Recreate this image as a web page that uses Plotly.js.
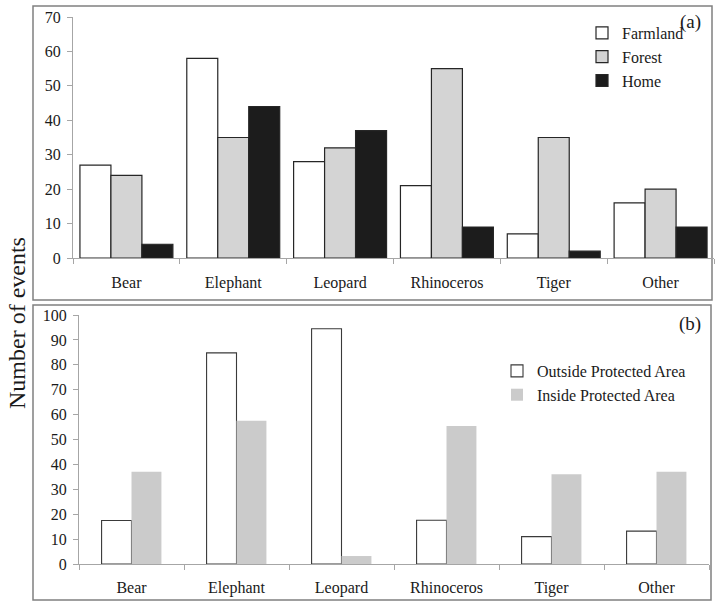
<!DOCTYPE html>
<html>
<head>
<meta charset="utf-8">
<script src="https://cdn.plot.ly/plotly-3.0.1.min.js"></script>
<style>html,body{margin:0;padding:0;background:#fff;}#chart{width:717px;height:604px;}</style>
</head>
<body>
<div id="chart"></div>
<script>
// ---- data ----
const categories = ["Bear", "Elephant", "Leopard", "Rhinoceros", "Tiger", "Other"];
// panel (a): events by location
const farmland = [27, 58, 28, 21, 7, 16];
const forest   = [24, 35, 32, 55, 35, 20];
const home     = [4, 44, 37, 9, 2, 9];
// panel (b): events by protected-area status
const outsidePA = [17.5, 84.8, 94.5, 17.6, 11, 13.2];
const insidePA  = [37, 57.5, 3.2, 55.4, 36, 37];
const seriesA = ["Farmland", "Forest", "Home"];
const seriesB = ["Outside Protected Area", "Inside Protected Area"];
const yTicksA = [0, 10, 20, 30, 40, 50, 60, 70];
const yTicksB = [0, 10, 20, 30, 40, 50, 60, 70, 80, 90, 100];

// ---- style ----
const W = 717, H = 604;
const FONT = "Liberation Serif";
const px = v => v / W;
const py = v => (H - v) / H;

const edge = "#262626";
const traces = [
  {type: "bar", name: seriesA[0], x: categories, y: farmland, xaxis: "x", yaxis: "y",
   width: 0.29, offset: -0.435, marker: {color: "#ffffff", line: {color: edge, width: 1.2}}, legend: "legend"},
  {type: "bar", name: seriesA[1], x: categories, y: forest, xaxis: "x", yaxis: "y",
   width: 0.29, offset: -0.145, marker: {color: "#d4d4d4", line: {color: edge, width: 1.2}}, legend: "legend"},
  {type: "bar", name: seriesA[2], x: categories, y: home, xaxis: "x", yaxis: "y",
   width: 0.29, offset: 0.145, marker: {color: "#1c1c1c", line: {color: edge, width: 1.2}}, legend: "legend"},
  {type: "bar", name: seriesB[0], x: categories, y: outsidePA, xaxis: "x2", yaxis: "y2",
   width: 0.285, offset: -0.285, marker: {color: "#ffffff", line: {color: "#3a3a3a", width: 1.1}}, legend: "legend2"},
  {type: "bar", name: seriesB[1], x: categories, y: insidePA, xaxis: "x2", yaxis: "y2",
   width: 0.285, offset: 0, marker: {color: "#cbcbcb", line: {width: 0}}, legend: "legend2"}
];

const axisCommon = {
  showline: true, linecolor: "#a6a6a6", linewidth: 1,
  ticks: "outside", ticklen: 5, tickcolor: "#a6a6a6", tickwidth: 1,
  showgrid: false, zeroline: false, fixedrange: true,
  tickfont: {family: FONT, size: 16, color: "#1a1a1a"}
};

const layout = {
  width: W, height: H,
  margin: {l: 0, r: 0, t: 0, b: 0, autoexpand: false},
  paper_bgcolor: "#ffffff", plot_bgcolor: "rgba(0,0,0,0)",
  barmode: "group",
  showlegend: true,
  font: {family: FONT, size: 16, color: "#1a1a1a"},
  xaxis: Object.assign({}, axisCommon, {domain: [px(73), px(714)], anchor: "y", type: "category", tickson: "boundaries", ticklabelstandoff: 10}),
  yaxis: Object.assign({}, axisCommon, {domain: [py(258), py(17)], anchor: "x", range: [0, 70], tickvals: yTicksA, ticklabelstandoff: 3}),
  xaxis2: Object.assign({}, axisCommon, {domain: [px(79), px(709)], anchor: "y2", type: "category", tickson: "boundaries", ticklabelstandoff: 9}),
  yaxis2: Object.assign({}, axisCommon, {domain: [py(564), py(315)], anchor: "x2", range: [0, 100], tickvals: yTicksB, ticklabelstandoff: 3}),
  legend: {x: px(582), y: py(16), xanchor: "left", yanchor: "top", bgcolor: "rgba(0,0,0,0)",
           font: {family: FONT, size: 16, color: "#1a1a1a"}, itemwidth: 30, traceorder: "normal"},
  legend2: {x: px(497), y: py(354), xanchor: "left", yanchor: "top", bgcolor: "rgba(0,0,0,0)",
           font: {family: FONT, size: 16, color: "#1a1a1a"}, itemwidth: 30, traceorder: "normal"},
  shapes: [
    {type: "rect", xref: "paper", yref: "paper", x0: px(33), x1: px(712), y0: py(300), y1: py(6),
     line: {color: "#808080", width: 1.5}, layer: "below"},
    {type: "rect", xref: "paper", yref: "paper", x0: px(33), x1: px(711), y0: py(600), y1: py(305),
     line: {color: "#808080", width: 1.5}, layer: "below"}
  ],
  annotations: [
    {text: "(a)", xref: "paper", yref: "paper", x: px(690), y: py(22), xanchor: "center", yanchor: "middle", showarrow: false,
     font: {family: FONT, size: 19, color: "#1a1a1a"}},
    {text: "(b)", xref: "paper", yref: "paper", x: px(690), y: py(324), xanchor: "center", yanchor: "middle", showarrow: false,
     font: {family: FONT, size: 19, color: "#1a1a1a"}},
    {text: "Number of events", xref: "paper", yref: "paper", x: px(17), y: py(323), xanchor: "center", yanchor: "middle", showarrow: false,
     textangle: -90, font: {family: FONT, size: 24, color: "#1a1a1a"}}
  ]
};

Plotly.newPlot("chart", traces, layout, {displayModeBar: false, staticPlot: true});
</script>
</body>
</html>
